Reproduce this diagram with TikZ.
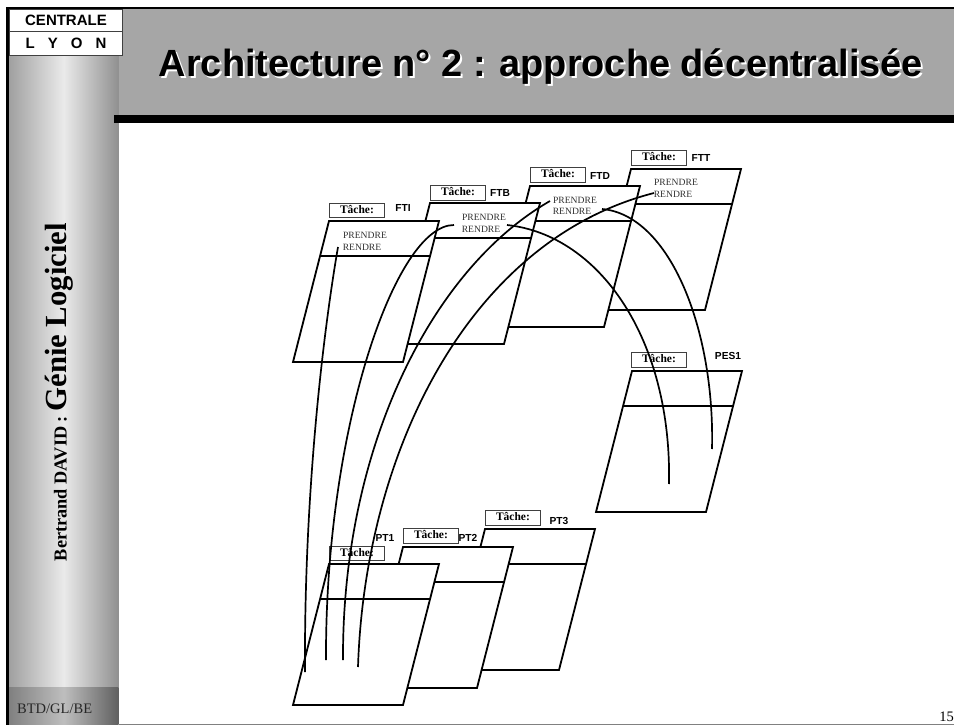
\documentclass[tikz,border=0pt]{standalone}
\usepackage{fontspec}
\setmainfont{Liberation Serif}
\newfontfamily\slidesans{Liberation Sans}
\usepackage{tikz}
\usetikzlibrary{
  positioning
}
\definecolor{slideband}{RGB}{166,166,166}
\definecolor{slidelight}{RGB}{234,234,234}
\definecolor{slideedge}{RGB}{160,160,160}
\definecolor{slidedark}{RGB}{144,144,144}
\definecolor{footlight}{RGB}{190,190,190}
\definecolor{footedge}{RGB}{128,128,128}
\definecolor{footdark}{RGB}{96,96,96}
\tikzset{
  slideTitle/.style={
    font=\slidesans\bfseries\fontsize{37.9}{40}\selectfont,
    anchor=base,
    inner sep=0pt
  },
  logoText/.style={
    font=\slidesans\bfseries\fontsize{15}{16}\selectfont,
    inner sep=0pt
  },
  taskPanel/.pic={
    \draw[panelLine, fill=white] (0,0) -- (110,0) -- (74,141) -- (-36,141) -- cycle;
    \draw[panelLine] (-9,35) -- (101,35);
  },
  panelLine/.style={
    line width=1.8pt,
    line join=miter
  },
  taskBox/.style={
    rectangle,
    draw=black!75,
    fill=white,
    line width=0.8pt,
    minimum width=55pt,
    minimum height=14.5pt,
    inner sep=0pt,
    text depth=2.5pt,
    font=\bfseries\fontsize{11.5}{12}\selectfont
  },
  taskName/.style={
    font=\slidesans\bfseries\fontsize{10.2}{11}\selectfont,
    inner sep=0pt
  },
  opText/.style={
    font=\fontsize{9.6}{10}\selectfont,
    text=black!80,
    inner sep=0pt
  },
  callLine/.style={
    line width=1.7pt,
    line cap=butt
  }
}

\begin{document}
\begin{tikzpicture}[x=1pt, y=-1pt]
  \useasboundingbox (0,0) rectangle (954,725);

  % slide frame
  \fill[slideband] (9,9) rectangle (954,115);
  \shade[left color=slideedge, right color=slidedark, middle color=slidelight]
    (9,55) rectangle (118.5,687);
  \shade[left color=footedge, right color=footdark, middle color=footlight]
    (9,687) rectangle (118.5,724);
  \fill[black] (6,7) rectangle (954,9);
  \fill[black] (6,7) rectangle (9,725);
  \fill[black] (114,115) rectangle (954,123);
  \fill[black!50] (118.5,723.5) rectangle (954,725);

  \node[draw=black!75, fill=white, line width=0.7pt, minimum width=113pt, minimum height=22.5pt, inner sep=0pt]
    (logoTop) at (65.5,20.25) {};
  \node[draw=black!75, fill=white, line width=0.7pt, minimum width=113pt, minimum height=23.5pt, inner sep=0pt]
    (logoBottom) at (65.5,43.25) {};
  \node[logoText] (centrale) at (66,20) {CENTRALE};
  \node[logoText] (lyon) at (66,43) {L\hspace{13pt}Y\hspace{13pt}O\hspace{13pt}N};

  \node[slideTitle, text=white] (titleShadow) at (543,79) {Architecture n° 2 : approche décentralisée};
  \node[slideTitle] (title) at (541,77) {Architecture n° 2 : approche décentralisée};

  \node[rotate=90, anchor=base, inner sep=0pt] (author) at (66.5,392)
    {\bfseries\fontsize{18.3}{20}\selectfont Bertrand DAVID : \fontsize{30.7}{32}\selectfont Génie Logiciel};
  \node[anchor=base west, inner sep=0pt, font=\fontsize{14.5}{16}\selectfont, text=black!85] (footer) at (17,713) {BTD/GL/BE};
  \node[anchor=base east, inner sep=0pt, font=\fontsize{14.5}{16}\selectfont] (pagenum) at (954,721) {15};

  % panels
  \pic at (631,169) {taskPanel};
  \pic at (530,186) {taskPanel};
  \pic at (430,203) {taskPanel};
  \pic at (329,221) {taskPanel};
  \pic at (632,371) {taskPanel};
  \pic at (485,529) {taskPanel};
  \pic at (403,547) {taskPanel};
  \pic at (329,564) {taskPanel};

  \node[taskBox] (taskFTI) at (357,210.5) {Tâche:};
  \node[taskBox] (taskFTB) at (458,193) {Tâche:};
  \node[taskBox] (taskFTD) at (558,175) {Tâche:};
  \node[taskBox] (taskFTT) at (659,158) {Tâche:};
  \node[taskBox] (taskPES) at (659,360) {Tâche:};
  \node[taskBox] (taskPT1) at (357,553.5) {Tâche:};
  \node[taskBox] (taskPT2) at (431,536) {Tâche:};
  \node[taskBox] (taskPT3) at (513,518) {Tâche:};

  \node[taskName] (nameFTI) at (403,208) {FTI};
  \node[taskName] (nameFTB) at (500,193) {FTB};
  \node[taskName] (nameFTD) at (600,176) {FTD};
  \node[taskName] (nameFTT) at (701,158) {FTT};
  \node[taskName] (namePES) at (728,356) {PES1};
  \node[taskName] (namePT1) at (385,538) {PT1};
  \node[taskName] (namePT2) at (468,538) {PT2};
  \node[taskName] (namePT3) at (559,521) {PT3};

  \node[opText] (prendreFTI) at (365,235) {PRENDRE};
  \node[opText] (rendreFTI) at (362,247) {RENDRE};
  \node[opText] (prendreFTB) at (484,217) {PRENDRE};
  \node[opText] (rendreFTB) at (481,229) {RENDRE};
  \node[opText] (prendreFTD) at (575,200) {PRENDRE};
  \node[opText] (rendreFTD) at (572,211) {RENDRE};
  \node[opText] (prendreFTT) at (676,182) {PRENDRE};
  \node[opText] (rendreFTT) at (673,194) {RENDRE};

  % calls
  \coordinate (outFTI) at (338,247);
  \coordinate (outFTBleft) at (454,225);
  \coordinate (outFTBright) at (507,225);
  \coordinate (outFTDleft) at (550,201);
  \coordinate (outFTDright) at (602,209);
  \coordinate (outFTT) at (654,193);
  \coordinate (inPT1a) at (305,672);
  \coordinate (inPT1b) at (326,660);
  \coordinate (inPT1c) at (343,660);
  \coordinate (inPT1d) at (358,667);
  \coordinate (inPESa) at (669,484);
  \coordinate (inPESb) at (712,449);

  \draw[callLine] (outFTI) .. controls (322,340) and (304,500) .. (inPT1a);
  \draw[callLine] (outFTBleft) .. controls (395,225) and (325,430) .. (inPT1b);
  \draw[callLine] (outFTDleft) .. controls (430,270) and (342,450) .. (inPT1c);
  \draw[callLine] (outFTT) .. controls (470,240) and (365,450) .. (inPT1d);
  \draw[callLine] (outFTBright) .. controls (600,235) and (672,340) .. (inPESa);
  \draw[callLine] (outFTDright) .. controls (670,215) and (715,330) .. (inPESb);
\end{tikzpicture}
\end{document}
